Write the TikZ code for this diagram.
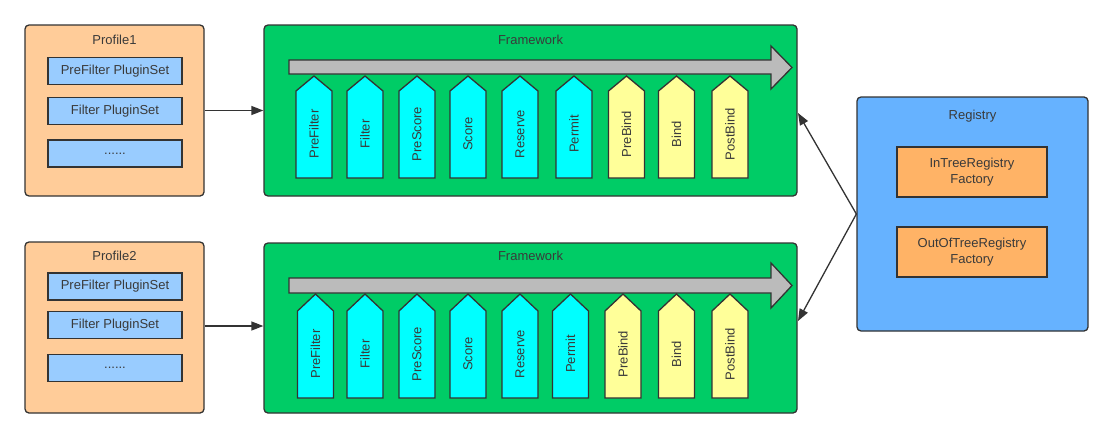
\documentclass[tikz,border=0pt]{standalone}
\usepackage{fontspec}
\setmainfont{Liberation Sans}
\usetikzlibrary{arrows.meta}
\definecolor{edge}{HTML}{333333}
\definecolor{txt}{HTML}{3A3A3A}
\definecolor{profilefill}{HTML}{FFCC99}
\definecolor{setfill}{HTML}{99CCFF}
\definecolor{fwfill}{HTML}{00CC66}
\definecolor{barfill}{HTML}{BBBBBB}
\definecolor{cyanfill}{HTML}{00FFFF}
\definecolor{yellowfill}{HTML}{FFFF99}
\definecolor{regfill}{HTML}{66B2FF}
\definecolor{factfill}{HTML}{FFB366}
\tikzset{
  every node/.style={font=\fontsize{13}{15.5}\selectfont, text=txt},
  container/.style={draw=edge, line width=1.3pt, rounded corners=4pt, inner sep=0pt},
  setbox/.style={draw=edge, line width=1.5pt, fill=setfill, minimum width=134pt, minimum height=27pt, inner sep=0pt},
  factbox/.style={draw=edge, line width=1.5pt, fill=factfill, minimum width=150pt, minimum height=50pt, inner sep=0pt, align=center},
  penta/.style={draw=edge, line width=1.3pt, line join=miter},
  bar/.style={draw=edge, line width=1.3pt, fill=barfill},
  conn/.style={draw=edge, line width=1.3pt, -{Triangle[length=12pt,width=9pt]}},
  lbl/.style={rotate=90, inner sep=0pt}
}
\begin{document}
\begin{tikzpicture}[x=1pt,y=-1pt]
\useasboundingbox (0,0) rectangle (1113,439);
% ---------- Profiles ----------
\node[container, fill=profilefill, minimum width=179pt, minimum height=171pt] (p1) at (114.5,110.5) {};
\node (p1t) at (114.5,40) {Profile1};
\node[setbox] (p1a) at (115,71) {PreFilter PluginSet};
\node[setbox] (p1b) at (115,111) {Filter PluginSet};
\node[setbox] (p1c) at (115,153.5) {......};

\node[container, fill=profilefill, minimum width=179pt, minimum height=171pt] (p2) at (114.5,327.5) {};
\node (p2t) at (114.5,256) {Profile2};
\node[setbox] (p2a) at (115,286.5) {PreFilter PluginSet};
\node[setbox] (p2b) at (115,325) {Filter PluginSet};
\node[setbox] (p2c) at (115,368) {......};

% ---------- Frameworks ----------
\node[container, fill=fwfill, minimum width=533pt, minimum height=171pt] (f1) at (530.5,110.5) {};
\node (f1t) at (530.5,40) {Framework};
\node[container, fill=fwfill, minimum width=533pt, minimum height=170pt] (f2) at (530.5,328) {};
\node (f2t) at (530.5,256) {Framework};

% gray process bars
\draw[bar] (289,60) -- (771,60) -- (771,46) -- (792,67.5) -- (771,89) -- (771,74) -- (289,74) -- cycle;
\draw[bar] (289,278) -- (771,278) -- (771,263) -- (792,285.5) -- (771,308) -- (771,293) -- (289,293) -- cycle;

% stage arrows, framework 1
\foreach \cx/\name/\col/\tag in {314/PreFilter/cyanfill/a, 365/Filter/cyanfill/b, 417/PreScore/cyanfill/c, 468/Score/cyanfill/d, 520/Reserve/cyanfill/e, 574/Permit/cyanfill/f, 626.5/PreBind/yellowfill/g, 676.5/Bind/yellowfill/h, 730/PostBind/yellowfill/i}{
  \draw[penta, fill=\col] (\cx-18,178) -- (\cx-18,91) -- (\cx,76) -- (\cx+18,91) -- (\cx+18,178) -- cycle;
  \node[lbl] (s1\tag) at (\cx,134) {\name};
}
% stage arrows, framework 2
\foreach \cx/\name/\col/\tag in {315.5/PreFilter/cyanfill/a, 365/Filter/cyanfill/b, 417/PreScore/cyanfill/c, 468/Score/cyanfill/d, 520/Reserve/cyanfill/e, 570.5/Permit/cyanfill/f, 623/PreBind/yellowfill/g, 676.5/Bind/yellowfill/h, 730/PostBind/yellowfill/i}{
  \draw[penta, fill=\col] (\cx-18,398) -- (\cx-18,311) -- (\cx,294) -- (\cx+18,311) -- (\cx+18,398) -- cycle;
  \node[lbl] (s2\tag) at (\cx,354) {\name};
}

% ---------- Registry ----------
\node[container, fill=regfill, minimum width=231pt, minimum height=234pt] (reg) at (972.5,214) {};
\node (regt) at (972.5,116) {Registry};
\node[factbox] (inf) at (972,172) {InTreeRegistry\\Factory};
\node[factbox] (outf) at (972,252) {OutOfTreeRegistry\\Factory};

% ---------- Connectors ----------
\draw[conn] (p1.east) -- (f1.west);
\draw[conn] (p2.east |- 0,326) coordinate (p2o) -- (f2.west |- p2o);
\coordinate (rs) at (reg.west);
\coordinate (f1in) at (798,113);
\coordinate (f2in) at (798,321);
\draw[conn] (rs) -- (f1in);
\draw[conn] (rs) -- (f2in);
\end{tikzpicture}
\end{document}
